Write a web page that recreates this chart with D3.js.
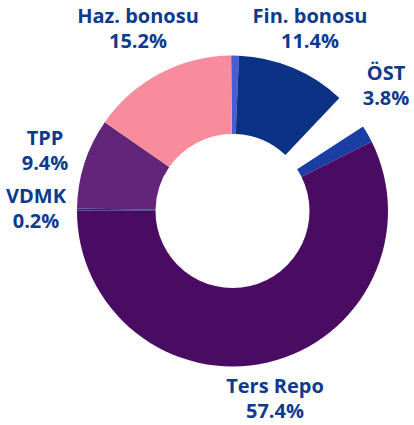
<!DOCTYPE html>
<html>
<head>
<meta charset="utf-8">
<script src="https://cdn.jsdelivr.net/npm/d3@7"></script>
<style>
  html, body { margin: 0; padding: 0; background: #fff; }
  svg { display: block; }
</style>
</head>
<body>
<svg id="chart" width="414" height="425"></svg>
<script>
// Slices in drawing order, clockwise from the top
const categories = ["", "Fin. bonosu", "ÖST", " ", "Ters Repo", "VDMK", "TPP", "Haz. bonosu"];
const values     = [0.8, 11.4, 3.8, 1.8, 57.4, 0.2, 9.4, 15.2];
const colors     = ["#4a5bd6", "#0b3284", "none", "#1a3ea3", "#4a0c62", "#1c2a7e", "#63257a", "#f88c9c"];
const labelText  = ["", "Fin. bonosu\n11.4%", "ÖST\n3.8%", "", "Ters Repo\n57.4%", "VDMK\n0.2%", "TPP\n9.4%", "Haz. bonosu\n15.2%"];

const svg = d3.select("#chart");
const cx = 232.5, cy = 211, outerR = 155.5, innerR = 77;
const deg = Math.PI / 180;

const pie = d3.pie().sort(null).value(d => d)
  .startAngle(-0.5 * deg).endAngle(359.5 * deg);
const arcs = pie(values);
const arc = d3.arc().innerRadius(innerR).outerRadius(outerR);

const g = svg.append("g").attr("transform", `translate(${cx},${cy})`);
g.selectAll("path").data(arcs).join("path")
  .attr("d", arc)
  .attr("fill", (d, i) => colors[i]);

// Label placement (text-box centre x, first baseline y)
const labelPos = {
  1: [310, 23],
  2: [386, 80],
  4: [275, 393],
  5: [36, 203],
  6: [45, 145],
  7: [138, 23]
};
const lg = svg.append("g")
  .attr("font-family", "'Open Sans', Roboto, sans-serif")
  .attr("font-weight", 700)
  .attr("font-size", 20)
  .attr("fill", "#0d3a8e")
  .attr("text-anchor", "middle");
Object.entries(labelPos).forEach(([i, p]) => {
  const lines = labelText[i].split("\n");
  const t = lg.append("text").attr("x", p[0]).attr("y", p[1]);
  lines.forEach((ln, k) => {
    t.append("tspan").attr("x", p[0]).attr("dy", k === 0 ? 0 : 25).text(ln);
  });
});
</script>
</body>
</html>
